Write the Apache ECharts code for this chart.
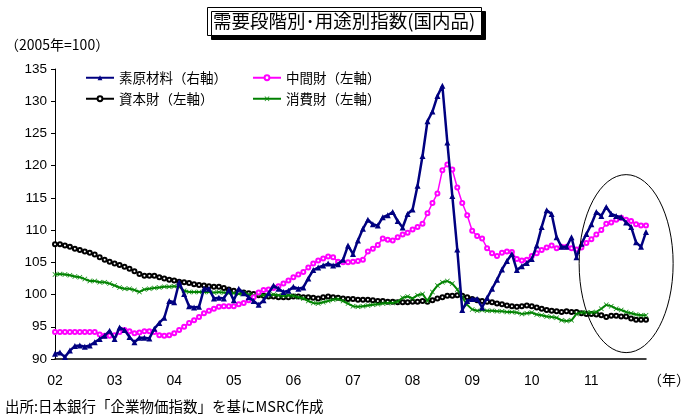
<!DOCTYPE html>
<html>
<head>
<meta charset="utf-8">
<script src="https://cdn.jsdelivr.net/npm/echarts@6/dist/echarts.min.js"></script>
<style>
  html, body { margin: 0; padding: 0; background: #fff; }
  #main { width: 683px; height: 417px; }
</style>
</head>
<body>
<div id="main"></div>
<script>
// tick labels (year) on the x axis, one per January
var years = ['02', '03', '04', '05', '06', '07', '08', '09', '10', '11'];
var yTicks = { min: 90, max: 135, step: 5 };

// 素原材料 (navy, triangles)
var rawMaterials = [
  90.8, 91.0, 90.3, 91.3, 92.0, 92.1, 91.9, 92.1, 92.6, 93.1, 93.6, 94.4,
  93.1, 94.9, 94.5, 93.4, 92.6, 93.3, 93.3, 93.2, 94.7, 95.6, 96.4, 99.0,
  98.8, 101.9, 100.1, 98.2, 98.0, 98.1, 100.9, 100.9, 99.4, 99.5, 99.4, 100.7,
  99.1, 100.9, 100.2, 99.6, 99.0, 98.4, 99.1, 100.2, 101.4, 100.9, 100.4, 100.6,
  101.2, 100.9, 101.1, 102.5, 103.8, 104.2, 104.5, 104.8, 104.5, 104.7, 105.4, 107.6,
  106.3, 108.4, 110.2, 111.6, 110.9, 110.7, 112.0, 112.3, 112.8, 111.4, 110.4, 112.5,
  113.2, 116.9, 121.5, 126.9, 128.4, 130.8, 132.4, 123.6, 115.3, 107.0, 97.6, 99.0,
  99.3, 99.3, 98.0, 99.5, 100.9, 102.3, 103.9, 105.2, 106.3, 103.8, 104.4, 104.9,
  105.5, 107.6, 110.5, 113.1, 112.5, 108.9, 107.4, 107.4, 108.9, 105.8, 107.9, 109.4,
  110.9, 112.8, 112.2, 113.6, 112.5, 112.2, 112.0, 111.2, 110.5, 108.1, 107.4, 109.7
];

// 中間財 (magenta, open circles)
var intermediate = [
  94.2, 94.2, 94.2, 94.2, 94.2, 94.2, 94.2, 94.2, 94.2, 93.8, 93.6, 93.6,
  93.7, 94.2, 94.5, 94.3, 94.0, 94.1, 94.3, 94.3, 94.2, 93.7, 93.6, 93.7,
  94.0, 94.5, 95.0, 95.6, 96.0, 96.5, 97.1, 97.5, 97.8, 98.1, 98.2, 98.2,
  98.2, 98.5, 98.7, 99.1, 99.6, 100.3, 100.7, 100.8, 101.0, 101.3, 101.7, 102.2,
  102.7, 103.1, 103.5, 104.2, 104.8, 105.3, 105.6, 105.9, 105.8, 105.1, 105.0, 105.0,
  105.1, 105.2, 105.4, 106.7, 107.1, 107.7, 108.7, 108.5, 108.4, 108.9, 109.3, 109.6,
  110.1, 110.5, 111.0, 112.6, 114.2, 115.7, 119.3, 120.2, 119.4, 116.6, 114.2, 112.3,
  109.9, 109.1, 108.7, 107.2, 106.4, 106.0, 106.5, 106.7, 106.6, 105.5, 105.3, 105.4,
  106.0, 106.4, 106.9, 107.3, 107.6, 107.2, 107.4, 107.4, 107.2, 107.0, 107.3, 108.0,
  108.6, 109.3, 110.0, 111.0, 111.2, 111.6, 111.9, 111.6, 111.4, 110.9, 110.7, 110.7
];

// 資本財 (black, open circles)
var capital = [
  107.8, 107.8, 107.6, 107.4, 107.1, 106.9, 106.7, 106.5, 106.2, 105.8, 105.4, 105.1,
  104.8, 104.6, 104.3, 104.0, 103.6, 103.2, 102.9, 102.9, 102.9, 102.7, 102.5, 102.3,
  102.2, 102.0, 101.9, 101.8, 101.6, 101.5, 101.4, 101.3, 101.2, 101.2, 101.0, 100.8,
  100.6, 100.4, 100.3, 100.2, 100.1, 99.9, 99.8, 99.7, 99.7, 99.6, 99.6, 99.6,
  99.7, 99.7, 99.6, 99.6, 99.5, 99.4, 99.6, 99.7, 99.6, 99.5, 99.4, 99.3,
  99.3, 99.2, 99.2, 99.2, 99.1, 99.0, 99.0, 98.9, 98.9, 98.8, 98.8, 98.8,
  98.9, 98.9, 99.0, 98.9, 99.1, 99.4, 99.6, 99.8, 99.8, 99.9, 99.8, 99.6,
  99.3, 99.1, 99.0, 98.9, 98.8, 98.6, 98.5, 98.3, 98.2, 98.1, 98.2, 98.3,
  98.2, 98.0, 97.8, 97.6, 97.5, 97.4, 97.3, 97.4, 97.3, 97.3, 97.1, 97.0,
  97.0, 96.9, 96.8, 96.5, 96.7, 96.7, 96.6, 96.6, 96.3, 96.1, 96.1, 96.1
];

// 消費財 (green, crosses)
var consumer = [
  103.1, 103.2, 103.1, 103.0, 102.8, 102.7, 102.4, 102.1, 102.1, 101.9, 101.9, 101.7,
  101.4, 101.1, 100.9, 100.9, 100.7, 100.4, 100.8, 100.9, 101.0, 101.1, 101.2, 101.2,
  101.3, 101.2, 100.6, 100.4, 100.4, 100.4, 100.4, 100.4, 100.3, 100.4, 100.3, 100.2,
  100.2, 100.1, 100.2, 100.0, 99.9, 100.0, 99.9, 99.9, 100.0, 99.9, 99.8, 99.9,
  99.8, 99.6, 99.4, 99.0, 98.7, 98.6, 98.8, 99.0, 99.2, 99.3, 99.0, 98.6,
  98.2, 98.1, 98.2, 98.3, 98.4, 98.5, 98.6, 98.7, 98.7, 98.9, 99.5, 99.7,
  99.4, 99.9, 100.1, 99.0, 100.4, 101.4, 101.9, 102.1, 101.7, 100.8, 99.6, 98.4,
  97.7, 97.5, 97.6, 97.5, 97.5, 97.4, 97.4, 97.3, 97.3, 97.2, 97.0, 97.1,
  97.2, 96.9, 96.8, 96.6, 96.5, 96.4, 96.0, 95.9, 96.0, 97.0, 97.2, 97.2,
  97.2, 97.3, 97.8, 98.4, 98.2, 97.8, 97.6, 97.3, 97.1, 96.9, 96.8, 96.8
];

var seriesNames = ['素原材料（右軸）', '中間財（左軸）', '資本財（左軸）', '消費財（左軸）'];

// months as categories: "yy/m"
var months = [];
years.forEach(function (y) {
  for (var m = 1; m <= 12; m++) months.push(y + '/' + m);
});

var crossPath = 'path://M0,1L1,0L5,4L9,0L10,1L6,5L10,9L9,10L5,6L1,10L0,9L4,5Z';
var jp = '"Noto Sans CJK JP", sans-serif';
var num = '"Liberation Sans", Arial, sans-serif';

var chart = echarts.init(document.getElementById('main'));

function legendAt(name, left, top) {
  return {
    data: [name], left: left, top: top, padding: 0,
    itemWidth: 28, itemHeight: 6, itemGap: 0,
    textStyle: { fontFamily: jp, fontSize: 13.5, color: '#000' }
  };
}

var option = {
  animation: false,
  backgroundColor: '#fff',
  title: {
    text: '需要段階別･用途別指数(国内品)',
    left: 207, top: 7,
    padding: [5, 6, 5, 6],
    backgroundColor: '#fff',
    borderColor: '#000', borderWidth: 1,
    shadowColor: '#000', shadowBlur: 0, shadowOffsetX: 4, shadowOffsetY: 4,
    textStyle: { fontFamily: jp, fontSize: 18.5, fontWeight: 'normal', color: '#000' }
  },
  legend: [
    legendAt(seriesNames[0], 85, 71),
    legendAt(seriesNames[1], 252, 71),
    legendAt(seriesNames[2], 85, 92),
    legendAt(seriesNames[3], 252, 92)
  ],
  grid: { left: 55, right: 37, top: 69, bottom: 58 },
  xAxis: {
    type: 'category',
    data: months,
    boundaryGap: false,
    axisLine: { lineStyle: { color: '#000', width: 1.5 } },
    axisTick: { show: false },
    axisLabel: {
      interval: function (index) { return index % 12 === 0; },
      formatter: function (v) { return v.split('/')[0]; },
      margin: 15,
      fontFamily: num, fontSize: 14, color: '#000'
    },
    splitLine: { show: false }
  },
  yAxis: {
    type: 'value',
    min: yTicks.min, max: yTicks.max, interval: yTicks.step,
    axisLine: { show: true, lineStyle: { color: '#000', width: 1 } },
    axisTick: { show: true, length: 4, lineStyle: { color: '#000' } },
    axisLabel: { margin: 8, fontFamily: num, fontSize: 13.5, color: '#000' },
    splitLine: { show: false }
  },
  series: [
    {
      name: seriesNames[2], type: 'line', data: capital, z: 2,
      symbol: 'emptyCircle', symbolSize: 4, showAllSymbol: true,
      itemStyle: { color: '#000', borderWidth: 1 },
      lineStyle: { color: '#000', width: 1 }
    },
    {
      name: seriesNames[3], type: 'line', data: consumer, z: 3,
      symbol: crossPath, symbolSize: 5, showAllSymbol: true,
      itemStyle: { color: '#0a8a0a' },
      lineStyle: { color: '#008000', width: 2 }
    },
    {
      name: seriesNames[1], type: 'line', data: intermediate, z: 4,
      symbol: 'emptyCircle', symbolSize: 4, showAllSymbol: true,
      itemStyle: { color: '#ff00ff', borderWidth: 1 },
      lineStyle: { color: '#ff00ff', width: 1.5 }
    },
    {
      name: seriesNames[0], type: 'line', data: rawMaterials, z: 5,
      symbol: 'triangle', symbolSize: 6, showAllSymbol: true,
      itemStyle: { color: '#000080' },
      lineStyle: { color: '#000080', width: 2.5 }
    }
  ],
  graphic: [
    { type: 'text', left: 5, top: 38,
      style: { text: '（2005年=100）', font: '14px ' + jp, fill: '#000' } },
    { type: 'text', left: 648, top: 373,
      style: { text: '（年）', font: '14px ' + jp, fill: '#000' } },
    { type: 'text', left: 5, top: 399,
      style: { text: '出所:日本銀行「企業物価指数」を基にMSRC作成', font: '14.5px ' + jp, fill: '#000' } }
  ]
};

chart.setOption(option);

// circle highlighting 2011, placed through the axes
var c = chart.convertToPixel({ gridIndex: 0 }, [115, 104.8]);
chart.setOption({
  graphic: option.graphic.concat([{
    type: 'ellipse', silent: true, z: 10,
    shape: { cx: c[0], cy: c[1], rx: 47, ry: 89 },
    style: { fill: 'none', stroke: '#000', lineWidth: 1 }
  }])
});
</script>
</body>
</html>
